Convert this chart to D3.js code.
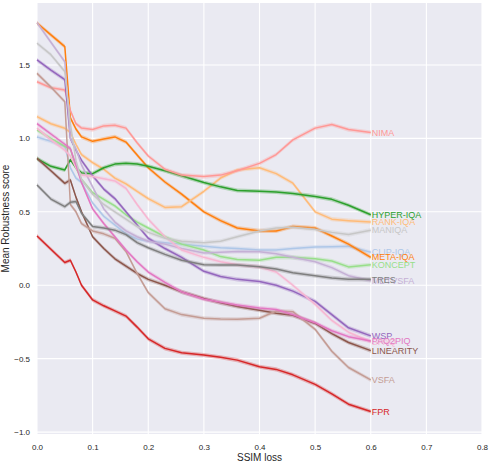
<!DOCTYPE html>
<html>
<head>
<meta charset="utf-8">
<script src="https://cdn.jsdelivr.net/npm/d3@7"></script>
<style>
  body { margin: 0; background: #fff; }
  svg { display: block; }
  text { font-family: "Liberation Sans", Arial, sans-serif; }
</style>
</head>
<body>
<svg id="robustness-chart" width="490" height="462"></svg>
<script>
// SSIM loss steps shared by every method
const lossSteps = [0, 0.025, 0.05, 0.06, 0.07, 0.08, 0.1, 0.12, 0.14, 0.16, 0.18, 0.2, 0.23, 0.26, 0.3, 0.33, 0.36, 0.4, 0.43, 0.46, 0.5, 0.53, 0.56, 0.6];

const nima      = [1.386, 1.345, 1.33, 1.19, 1.10, 1.07, 1.06, 1.085, 1.09, 1.07, 0.97, 0.88, 0.79, 0.75, 0.74, 0.75, 0.78, 0.83, 0.89, 0.99, 1.07, 1.095, 1.06, 1.04];
const hyperIqa  = [0.862, 0.81, 0.785, 0.855, 0.80, 0.765, 0.76, 0.80, 0.825, 0.83, 0.825, 0.81, 0.78, 0.745, 0.70, 0.67, 0.645, 0.64, 0.635, 0.625, 0.605, 0.585, 0.545, 0.48];
const rankIqa   = [1.148, 1.10, 1.069, 1.04, 0.96, 0.89, 0.835, 0.79, 0.73, 0.69, 0.64, 0.59, 0.53, 0.535, 0.64, 0.73, 0.785, 0.80, 0.76, 0.695, 0.50, 0.45, 0.44, 0.43];
const maniqa    = [1.648, 1.57, 1.455, 1.1, 0.85, 0.72, 0.62, 0.55, 0.50, 0.45, 0.40, 0.36, 0.32, 0.30, 0.29, 0.30, 0.33, 0.37, 0.39, 0.395, 0.38, 0.36, 0.345, 0.375];
const clipIqa   = [1.01, 0.98, 0.945, 0.80, 0.73, 0.70, 0.56, 0.47, 0.41, 0.35, 0.315, 0.30, 0.29, 0.28, 0.265, 0.255, 0.25, 0.24, 0.24, 0.25, 0.26, 0.262, 0.265, 0.225];
const metaIqa   = [1.786, 1.705, 1.625, 1.14, 1.064, 1.01, 0.98, 0.996, 1.01, 0.975, 0.887, 0.80, 0.703, 0.62, 0.50, 0.44, 0.39, 0.37, 0.37, 0.40, 0.39, 0.335, 0.28, 0.19];
const koncept   = [1.057, 1.0, 0.945, 0.93, 0.80, 0.72, 0.63, 0.585, 0.54, 0.48, 0.43, 0.39, 0.33, 0.28, 0.24, 0.195, 0.175, 0.17, 0.19, 0.19, 0.18, 0.165, 0.125, 0.14];
const tres      = [0.683, 0.587, 0.535, 0.565, 0.57, 0.49, 0.40, 0.39, 0.375, 0.345, 0.29, 0.255, 0.21, 0.17, 0.14, 0.138, 0.138, 0.126, 0.11, 0.085, 0.065, 0.05, 0.04, 0.04];
const mdtvsfa   = [1.788, 1.655, 1.522, 1.0, 0.93, 0.82, 0.67, 0.52, 0.43, 0.37, 0.33, 0.30, 0.28, 0.25, 0.22, 0.225, 0.23, 0.228, 0.215, 0.19, 0.16, 0.12, 0.065, 0.03];
const wsp       = [1.534, 1.465, 1.40, 1.0, 0.92, 0.85, 0.745, 0.655, 0.59, 0.50, 0.41, 0.32, 0.25, 0.19, 0.095, 0.06, 0.04, 0.025, 0.0, -0.04, -0.11, -0.2, -0.29, -0.345];
const paq2piq   = [1.10, 1.03, 0.96, 0.93, 0.82, 0.70, 0.52, 0.42, 0.33, 0.24, 0.16, 0.09, 0.02, -0.045, -0.095, -0.115, -0.135, -0.155, -0.165, -0.20, -0.255, -0.31, -0.35, -0.38];
const spaq      = [1.07, 0.99, 0.92, 0.88, 0.80, 0.75, 0.74, 0.725, 0.71, 0.66, 0.55, 0.45, 0.33, 0.24, 0.19, 0.16, 0.14, 0.125, 0.09, 0.0, -0.13, -0.24, -0.32, -0.385];
const linearity = [0.864, 0.78, 0.694, 0.717, 0.60, 0.50, 0.33, 0.25, 0.18, 0.13, 0.08, 0.04, 0.0, -0.045, -0.09, -0.12, -0.145, -0.17, -0.19, -0.205, -0.26, -0.33, -0.39, -0.445];
const vsfa      = [1.443, 1.35, 1.25, 0.55, 0.50, 0.42, 0.37, 0.35, 0.32, 0.23, 0.08, -0.05, -0.16, -0.20, -0.225, -0.23, -0.232, -0.225, -0.175, -0.18, -0.30, -0.45, -0.56, -0.645];
const fpr       = [0.335, 0.245, 0.155, 0.17, 0.09, 0.0, -0.10, -0.14, -0.175, -0.21, -0.285, -0.365, -0.43, -0.46, -0.475, -0.49, -0.51, -0.555, -0.573, -0.61, -0.675, -0.74, -0.81, -0.86];

const methodNames = ["CLIP-IQA", "META-IQA", "RANK-IQA", "HYPER-IQA", "KONCEPT", "FPR", "NIMA", "WSP", "MDTVSFA", "LINEARITY", "VSFA", "SPAQ", "PAQ2PIQ", "TRES", "MANIQA"];
const methodValues = [clipIqa, metaIqa, rankIqa, hyperIqa, koncept, fpr, nima, wsp, mdtvsfa, linearity, vsfa, spaq, paq2piq, tres, maniqa];

const xTickValues = [0, 0.1, 0.2, 0.3, 0.4, 0.5, 0.6, 0.7, 0.8];
const yTickValues = [-1.0, -0.5, 0.0, 0.5, 1.0, 1.5];

// tab20 colours, same order as methodNames
const methodColors = ["#aec7e8", "#ff7f0e", "#ffbb78", "#2ca02c", "#98df8a", "#d62728", "#ff9896", "#9467bd", "#c5b0d5", "#8c564b", "#c49c94", "#f7b6d2", "#e377c2", "#7f7f7f", "#c7c7c7"];

const drawRobustnessChart = (elementSelector) => {
	const svg = d3.select(elementSelector),
		margin = {top: 3, right: 8, bottom: 28, left: 37},
		width = +svg.attr("width") - margin.left - margin.right,
		height = +svg.attr("height") - margin.top - margin.bottom,
		g = svg.append("g").attr("transform", "translate(" + margin.left + "," + margin.top + ")");

	const x = d3.scaleLinear().domain([0, 0.8]).range([0, width]);
	const y = d3.scaleLinear().domain([-1.013, 1.922]).range([height, 0]);

	const series = methodNames.map(function(name, i) {
		return {name: name, color: methodColors[i], values: lossSteps.map(function(s, j) { return {loss: s, score: methodValues[i][j]}; })};
	});

	// seaborn darkgrid background
	g.append("rect")
		.attr("width", width)
		.attr("height", height)
		.attr("fill", "#eaeaf2");

	g.append("g")
		.selectAll("line")
		.data(xTickValues)
		.enter().append("line")
		.attr("x1", function(d) { return x(d); })
		.attr("x2", function(d) { return x(d); })
		.attr("y1", 0)
		.attr("y2", height)
		.attr("stroke", "#fff")
		.attr("stroke-width", 1.1);

	g.append("g")
		.selectAll("line")
		.data(yTickValues)
		.enter().append("line")
		.attr("x1", 0)
		.attr("x2", width)
		.attr("y1", function(d) { return y(d); })
		.attr("y2", function(d) { return y(d); })
		.attr("stroke", "#fff")
		.attr("stroke-width", 1.1);

	// thin confidence band around each mean line
	const band = d3.area()
		.x(function(d) { return x(d.loss); })
		.y0(function(d) { return y(d.score - 0.014); })
		.y1(function(d) { return y(d.score + 0.014); });

	const line = d3.line()
		.x(function(d) { return x(d.loss); })
		.y(function(d) { return y(d.score); });

	const method = g.append("g")
		.selectAll("g")
		.data(series)
		.enter().append("g");

	method.append("path")
		.attr("d", function(d) { return band(d.values); })
		.attr("fill", function(d) { return d.color; })
		.attr("opacity", 0.3);

	method.append("path")
		.attr("d", function(d) { return line(d.values); })
		.attr("fill", "none")
		.attr("stroke", function(d) { return d.color; })
		.attr("stroke-width", 1.5)
		.attr("stroke-linejoin", "round");

	method.append("text")
		.attr("x", function(d) { return x(d.values[d.values.length - 1].loss) + 1; })
		.attr("y", function(d) { return y(d.values[d.values.length - 1].score); })
		.attr("dy", "0.35em")
		.attr("font-size", 9)
		.attr("fill", function(d) { return d.color; })
		.text(function(d) { return d.name; });

	const xAxis = g.append("g")
		.attr("transform", "translate(0," + height + ")")
		.call(d3.axisBottom(x).tickValues(xTickValues).tickFormat(d3.format(".1f")).tickSize(0).tickPadding(10));
	xAxis.select(".domain").remove();
	xAxis.selectAll("text").attr("font-size", 8).attr("fill", "#262626").style("font-family", "\"Liberation Sans\", Arial, sans-serif");

	const yAxis = g.append("g")
		.call(d3.axisLeft(y).tickValues(yTickValues).tickFormat(d3.format(".1f")).tickSize(0).tickPadding(7));
	yAxis.select(".domain").remove();
	yAxis.selectAll("text").attr("font-size", 8).attr("fill", "#262626").style("font-family", "\"Liberation Sans\", Arial, sans-serif");

	svg.append("text")
		.attr("x", margin.left + width / 2)
		.attr("y", 460.5)
		.attr("text-anchor", "middle")
		.attr("font-size", 10)
		.attr("fill", "#262626")
		.text("SSIM loss");

	svg.append("text")
		.attr("transform", "translate(9," + (margin.top + height / 2) + ") rotate(-90)")
		.attr("text-anchor", "middle")
		.attr("font-size", 10)
		.attr("fill", "#262626")
		.text("Mean Robustness score");
}

drawRobustnessChart("#robustness-chart");
</script>
</body>
</html>
